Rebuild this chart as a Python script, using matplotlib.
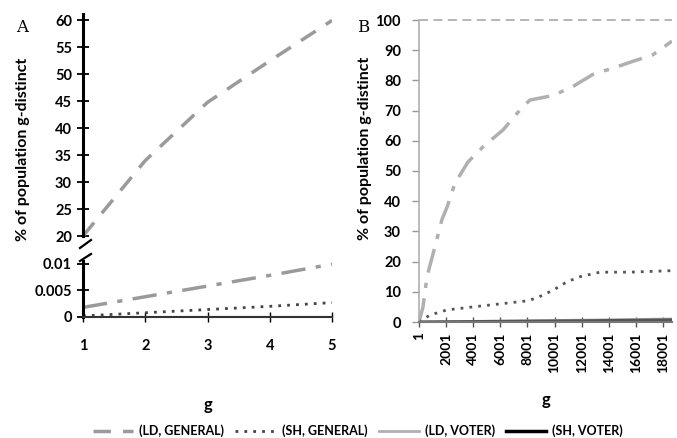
import matplotlib
matplotlib.use("Agg")
import matplotlib.pyplot as plt
from matplotlib.lines import Line2D

# ---------------- data ----------------
# Panel A
g_a = [1, 2, 3, 4, 5]
ld_general_a = [20.0, 34.0, 44.8, 52.5, 60.0]
ld_general_low_a = [0.0018, 0.0038, 0.0058, 0.0078, 0.0099]
sh_general_a = [0.0002, 0.0008, 0.0014, 0.0020, 0.0027]
ld_voter_a = [0, 0, 0, 0, 0]
sh_voter_a = [0, 0, 0, 0, 0]

# Panel B
g_b_ld = [1, 296, 591, 1181, 1698, 2067, 2657, 3616, 4722, 6198, 7600, 8190,
          9886, 11361, 12837, 14607, 15566, 17263, 18665]
ld_general_b = [0, 5, 15, 25, 34, 38, 46, 53, 58, 63.6, 71, 73.5,
                75, 78, 82, 84.5, 86, 88.5, 93]
g_b_sh = [1, 810, 2067, 3985, 5975, 7968, 8700, 9886, 10920, 11878, 13354, 15566, 18665]
sh_general_b = [0, 2.3, 4, 5, 6, 7, 8, 10.5, 13.3, 15, 16.5, 16.5, 17]
g_b_v = [1, 6000, 12000, 18665]
ld_voter_b = [0, 0.3, 0.6, 1.0]
sh_voter_b = [0, 0.2, 0.4, 0.7]
ref_level_b = 100

yticks_a_top = [20, 25, 30, 35, 40, 45, 50, 55, 60]
yticks_a_bot = [0, 0.005, 0.01]
yticklabels_a_bot = ["0", "0.005", "0.01"]
xticks_a = [1, 2, 3, 4, 5]
xticks_b = [1, 2001, 4001, 6001, 8001, 10001, 12001, 14001, 16001, 18001]
yticks_b = [0, 10, 20, 30, 40, 50, 60, 70, 80, 90, 100]

legend_labels = ["(LD, GENERAL)", "(SH, GENERAL)", "(LD, VOTER)", "(SH, VOTER)"]

# ---------------- style ----------------
FONT = ["Lato", "DejaVu Sans"]
plt.rcParams['font.family'] = FONT
GRAY = "#9a9a9a"
LGRAY = "#b0b0b0"

W, H = 677, 438
fig = plt.figure(figsize=(W / 100, H / 100), dpi=100)

def fx(px):
    return px / W

def fy(py):
    return 1 - py / H

# ---- Panel A
axT = fig.add_axes([fx(83), fy(236), fx(332) - fx(83), (236 - 14) / H])
axB = fig.add_axes([fx(83), fy(317), fx(332) - fx(83), (317 - 261) / H])

for ax in (axT, axB):
    ax.set_xlim(1, 5)
    for s in ("top", "right"):
        ax.spines[s].set_visible(False)
    ax.spines["left"].set_linewidth(2.2)
    ax.spines["left"].set_color("black")
    ax.tick_params(axis="y", direction="inout", length=8, width=1.3, pad=4)

axT.set_ylim(20, 61.2)
axT.spines["bottom"].set_visible(False)
axT.set_xticks([])
axT.set_yticks(yticks_a_top)
axT.set_yticklabels([str(v) for v in yticks_a_top], fontweight="bold", fontsize=10.5)
axT.plot(g_a, ld_general_a, color=GRAY, lw=2.5, dashes=(5, 3.5))

axB.set_ylim(0, 0.0105)
axB.set_yticks(yticks_a_bot)
axB.set_yticklabels(yticklabels_a_bot, fontweight="bold", fontsize=10.5)
axB.set_xticks(xticks_a)
axB.set_xticklabels([str(v) for v in xticks_a], fontweight="bold", fontsize=10.5)
axB.spines["bottom"].set_color("#333333")
axB.spines["bottom"].set_linewidth(1.5)
axB.tick_params(axis="x", direction="inout", length=7, width=1.0, pad=12)
axB.plot(g_a, ld_general_low_a, color=GRAY, lw=2.5, dashes=(7, 3, 1.5, 3))
axB.plot(g_a, sh_general_a, color="#444444", lw=2, dashes=(1, 2.2))
axB.plot(g_a, ld_voter_a, color=LGRAY, lw=2)
axB.plot(g_a, sh_voter_a, color="#555555", lw=2.2)
axB.set_xlabel("g", fontsize=12, fontweight="bold", labelpad=32)

# break marks
for (x0, y0, x1, y1) in [(80, 248, 91, 240), (80, 261, 91, 254)]:
    fig.add_artist(Line2D([fx(x0), fx(x1)], [fy(y0), fy(y1)], color="black", lw=1.6))

fig.text(fx(23), fy(149), "% of population g-distinct", rotation=90, ha="center",
         va="center", fontsize=11.5, fontweight="bold")
fig.text(fx(22), fy(28), "A", fontsize=12, family=["DejaVu Serif"], ha="center", va="center")

# ---- Panel B
axR = fig.add_axes([fx(419), fy(322), fx(672) - fx(419), (322 - 20) / H])
axR.set_xlim(1, 18665)
axR.set_ylim(0, 100)
for s in ("top", "right"):
    axR.spines[s].set_visible(False)
axR.spines["left"].set_color(LGRAY)
axR.spines["left"].set_linewidth(1.2)
axR.spines["bottom"].set_color("#777777")
axR.spines["bottom"].set_linewidth(1.5)
axR.set_yticks(yticks_b)
axR.set_yticklabels([str(v) for v in yticks_b], fontweight="bold", fontsize=10.5)
axR.set_xticks(xticks_b)
axR.set_xticklabels([str(v) for v in xticks_b], rotation=90, fontweight="bold", fontsize=10)
axR.tick_params(axis="y", direction="out", length=5, width=1, color="#999999", pad=8)
axR.tick_params(axis="x", direction="inout", length=7, width=1, color="#555555", pad=4)
axR.axhline(ref_level_b, color=LGRAY, lw=1.3, dashes=(5, 3), clip_on=False)
axR.plot(g_b_ld, ld_general_b, color=LGRAY, lw=2.5, dashes=(7, 3, 1.5, 3))
axR.plot(g_b_sh, sh_general_b, color="#555555", lw=2, dashes=(1, 2.2))
axR.plot(g_b_v, ld_voter_b, color=LGRAY, lw=2)
axR.plot(g_b_v, sh_voter_b, color="#555555", lw=2.2)
axR.set_xlabel("g", fontsize=12, fontweight="bold", labelpad=14)
fig.text(fx(365), fy(148), "% of population g-distinct", rotation=90, ha="center",
         va="center", fontsize=11.5, fontweight="bold")
fig.text(fx(363), fy(27), "B", fontsize=12, family=["DejaVu Serif"], ha="center", va="center")

# ---- legend
handles = [
    Line2D([], [], color=GRAY, lw=2.5, dashes=(5, 3.5)),
    Line2D([], [], color="#444444", lw=2, dashes=(1, 2.2)),
    Line2D([], [], color=LGRAY, lw=2),
    Line2D([], [], color="black", lw=2.5),
]
fig.legend(handles, legend_labels, loc="center", bbox_to_anchor=(fx(358), fy(431)),
           ncol=4, frameon=False, handlelength=3.2, columnspacing=0.9,
           handletextpad=0.5, prop={"weight": "bold", "size": 9})

fig.savefig("out.png", dpi=100)
